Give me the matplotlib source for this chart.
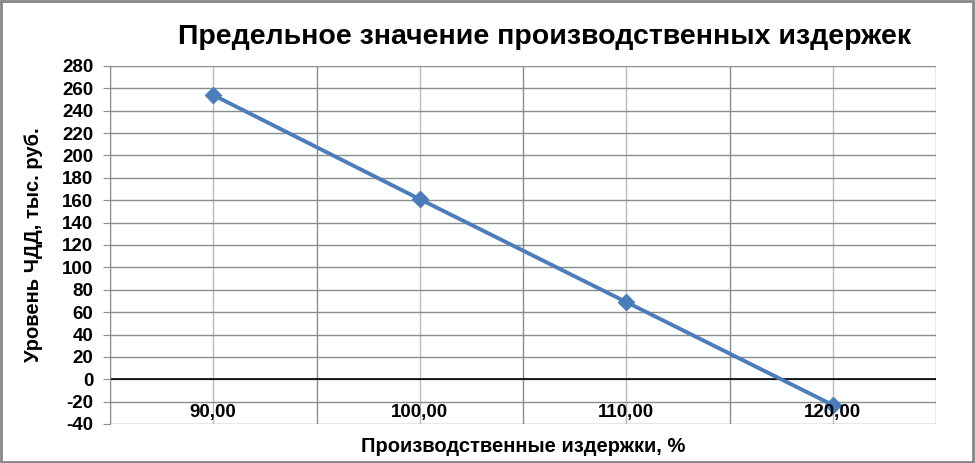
import matplotlib
matplotlib.use("Agg")
import matplotlib.pyplot as plt
from matplotlib.patches import Rectangle

categories = ["90,00", "100,00", "110,00", "120,00"]
npv = [254, 161, 69, -23]
yticks = list(range(-40, 281, 20))

plt.rcParams['font.family'] = ['Liberation Sans', 'DejaVu Sans']

fig = plt.figure(figsize=(9.75, 4.63), dpi=100)
ax = fig.add_axes([110/975, 1-424/463, (936-110)/975, (424-66)/463])

xs = list(range(len(categories)))
ax.set_xlim(-0.5, len(categories)-0.5)
ax.set_ylim(-40, 280)

# gridlines
for b in [i - 0.5 for i in range(len(categories)+1)]:
    ax.axvline(b, color='#8c8c8c', lw=1, zorder=1)
for c in xs:
    ax.axvline(c, color='#bcbcbc', lw=1, zorder=1)
for t in yticks:
    ax.axhline(t, color='#8c8c8c', lw=1, zorder=1)
ax.axhline(0, color='black', lw=1.2, zorder=2)

ax.plot(xs, npv, color='#4a7ebb', lw=2.8, marker='D', markersize=8.5, zorder=3)

ax.set_yticks(yticks)
ax.set_yticklabels([str(t) for t in yticks], fontsize=13.5, fontweight='bold')
ax.tick_params(axis='y', direction='out', length=5, color='#8c8c8c', pad=7)
ax.set_xticks([])
for sp in ['top', 'right', 'bottom']:
    ax.spines[sp].set_visible(False)
ax.spines['left'].set_color('#8c8c8c')

for i, lab in enumerate(categories):
    ax.text(i, -30, lab, ha='center', va='center', fontsize=13.5, fontweight='bold')

ax.set_ylabel("Уровень ЧДД, тыс. руб.", fontsize=14.5, fontweight='bold', labelpad=14)
fig.text(523/975, 1-447/463, "Производственные издержки, %", ha='center', va='center', fontsize=14.5, fontweight='bold')
fig.text(545/975, 1-37/463, "Предельное значение производственных издержек", ha='center', va='center', fontsize=20.5, fontweight='bold')

fig.patches.append(Rectangle((0.001, 0.002), 0.997, 0.995, transform=fig.transFigure, fill=False, edgecolor='#868686', lw=2))

fig.savefig("out.png", dpi=100)
